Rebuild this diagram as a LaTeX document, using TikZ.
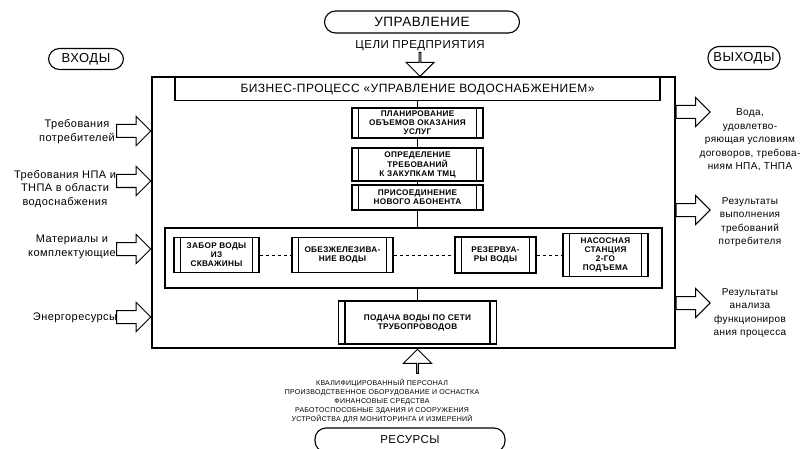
\documentclass[tikz,border=0pt]{standalone}
\usepackage{fontspec}
\setmainfont{Liberation Sans}[LetterSpace=4]
\usetikzlibrary{shapes.arrows,positioning}
\tikzset{
  pbox/.style={draw,align=center,inner sep=1pt,font=\bfseries\fontsize{8.2}{9}\selectfont,
    path picture={\draw ([xshift=6.5pt]path picture bounding box.north west) -- ([xshift=6.5pt]path picture bounding box.south west)
      ([xshift=-6.5pt]path picture bounding box.north east) -- ([xshift=-6.5pt]path picture bounding box.south east);}},
  ovalbox/.style={draw,rounded corners=11pt,inner sep=2pt,font=\fontsize{13}{15}\selectfont},
  barrow/.style={single arrow,draw,line width=1pt,inner xsep=0pt,inner ysep=6pt,minimum width=28pt,minimum height=34pt,single arrow head extend=8pt},
  lbl/.style={align=center,font=\fontsize{11}{13.5}\selectfont}
}
\begin{document}
\begin{tikzpicture}[x=1pt,y=-1pt,line width=1.1pt]
	\useasboundingbox (0,0) rectangle (805,449);
	\node[ovalbox,minimum width=195pt,minimum height=22pt,font=\fontsize{13.5}{15}\selectfont] (upr) at (422,22) {УПРАВЛЕНИЕ};
	\node[font=\fontsize{11.5}{13}\selectfont] (goal) at (420,46) {ЦЕЛИ ПРЕДПРИЯТИЯ};
	\node[ovalbox,minimum width=75pt,minimum height=21pt] (inp) at (86,59) {ВХОДЫ};
	\node[ovalbox,minimum width=72pt,minimum height=23pt] (outp) at (744,58) {ВЫХОДЫ};

	\node[draw,minimum width=523pt,minimum height=271pt] (proc) at (413.5,212.5) {};
	\node[draw,minimum width=485pt,minimum height=23pt,anchor=north,font=\fontsize{12}{14}\selectfont] (head) at (417.5,77) {БИЗНЕС-ПРОЦЕСС «УПРАВЛЕНИЕ ВОДОСНАБЖЕНИЕМ»};

	\node[pbox,minimum width=131pt,minimum height=30pt] (plan) at (417.5,123) {ПЛАНИРОВАНИЕ\\ОБЪЕМОВ ОКАЗАНИЯ\\УСЛУГ};
	\node[pbox,minimum width=131pt,minimum height=33pt] (purch) at (417.5,164.5) {ОПРЕДЕЛЕНИЕ\\ТРЕБОВАНИЙ\\К ЗАКУПКАМ ТМЦ};
	\node[pbox,minimum width=131pt,minimum height=25pt] (conn) at (417.5,197.5) {ПРИСОЕДИНЕНИЕ\\НОВОГО АБОНЕНТА};

	\node[draw,minimum width=497pt,minimum height=60pt] (chain) at (413.5,258) {};
	\node[pbox,minimum width=85pt,minimum height=35pt] (well) at (216.5,255) {ЗАБОР ВОДЫ\\ИЗ\\СКВАЖИНЫ};
	\node[pbox,minimum width=101pt,minimum height=35pt] (iron) at (342.5,255) {ОБЕЗЖЕЛЕЗИВА-\\НИЕ ВОДЫ};
	\node[pbox,minimum width=81pt,minimum height=36pt] (tank) at (495.5,255) {РЕЗЕРВУА-\\РЫ ВОДЫ};
	\node[pbox,minimum width=85pt,minimum height=43pt] (pump) at (605.5,255) {НАСОСНАЯ\\СТАНЦИЯ\\2-ГО\\ПОДЪЕМА};
	\node[pbox,minimum width=158pt,minimum height=43pt] (net) at (417.5,322.5) {ПОДАЧА ВОДЫ ПО СЕТИ\\ТРУБОПРОВОДОВ};

	\draw (head) -- (plan);
	\draw (plan) -- (purch);
	\draw (purch) -- (conn);
	\draw (conn.south) -- (conn.south |- chain.north);
	\draw (chain.south -| net.north) -- (net.north);
	\draw[dashed,line width=0.8pt] (well) -- (iron);
	\draw[dashed,line width=0.8pt] (iron) -- (tank);
	\draw[dashed,line width=0.8pt] (tank) -- (pump);

	\node[barrow,shape border rotate=270,minimum height=24pt,anchor=tip] (agoal) at (goal |- head.north) {};
	\node[barrow,shape border rotate=90,minimum height=24pt,anchor=tip] (ares) at (net |- proc.south) {};

	\foreach \n/\lx/\ly/\ay/\t in {req/77/131.5/131/{Требования\\потребителей},norm/65/189/181/{Требования НПА и\\ТНПА в области\\водоснабжения},mat/72/247/249/{Материалы и\\комплектующие},enr/75/318/317/{Энергоресурсы}}
	{ \node[barrow,anchor=tip] (a\n) at (proc.west |- 0,\ay) {};
	  \node[lbl] (\n) at (\lx,\ly) {\t}; }

	\foreach \n/\ly/\ay/\t in {water/140/112/{Вода,\\удовлетво-\\ряющая условиям\\договоров, требова-\\ниям НПА, ТНПА},done/222/210/{Результаты\\выполнения\\требований\\потребителя},anal/313/303/{Результаты\\анализа\\функциониров\\ания процесса}}
	{ \node[barrow,anchor=tail] (a\n) at (proc.east |- 0,\ay) {};
	  \node[lbl,font=\fontsize{10}{13.5}\selectfont] (\n) at (750,\ly) {\t}; }

	\node[align=center,font=\fontsize{7}{9}\selectfont] (res) at (382,401) {КВАЛИФИЦИРОВАННЫЙ ПЕРСОНАЛ\\ПРОИЗВОДСТВЕННОЕ ОБОРУДОВАНИЕ И ОСНАСТКА\\ФИНАНСОВЫЕ СРЕДСТВА\\РАБОТОСПОСОБНЫЕ ЗДАНИЯ И СООРУЖЕНИЯ\\УСТРОЙСТВА ДЛЯ МОНИТОРИНГА И ИЗМЕРЕНИЙ};
	\node[ovalbox,minimum width=190pt,minimum height=24pt,font=\fontsize{11.5}{13}\selectfont] (resl) at (410,440) {РЕСУРСЫ};
\end{tikzpicture}
\end{document}
